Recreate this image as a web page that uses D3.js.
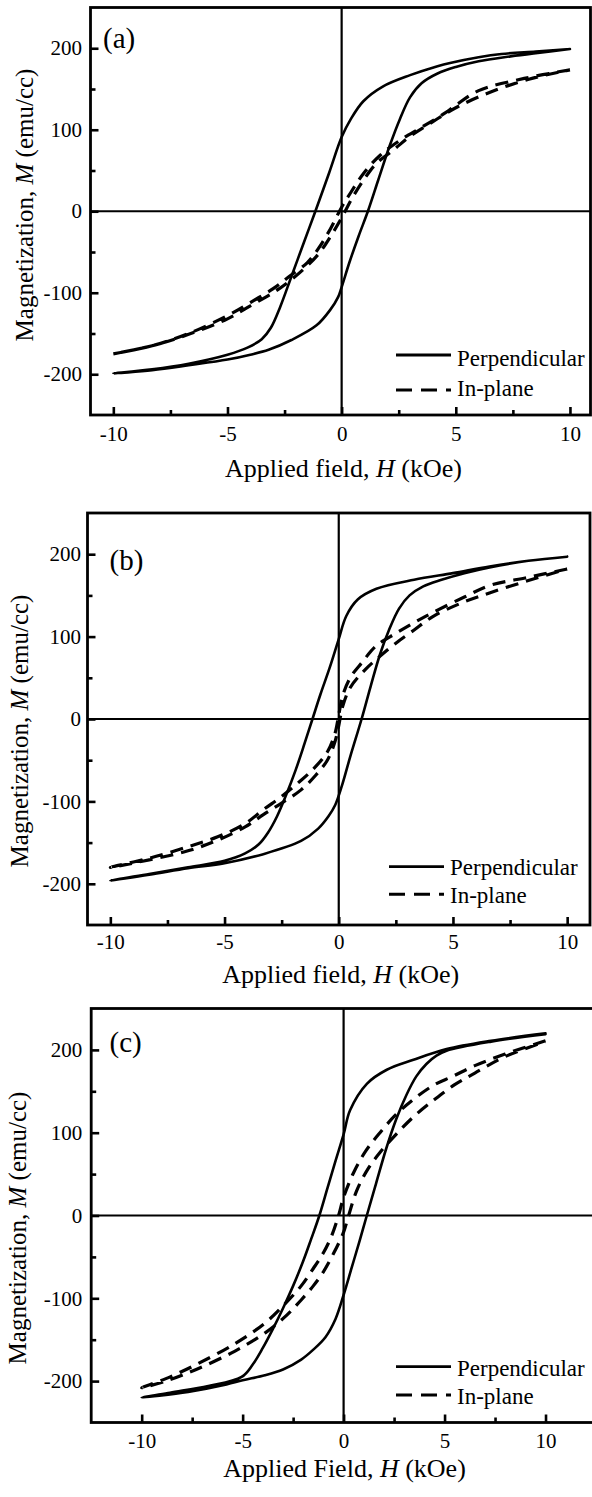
<!DOCTYPE html>
<html>
<head>
<meta charset="utf-8" />
<title>Hysteresis loops</title>
<style>
  html, body { margin: 0; background: #fff; }
  svg { display: block; background: #fff; }
  text { fill: #000; }
  .frame { fill: none; stroke: #000; stroke-width: 2.8px; }
  .zero { stroke: #000; stroke-width: 2.2px; }
  .tick line { stroke: #000; stroke-width: 2.6px; }
  .loop { fill: none; stroke: #000; stroke-linejoin: round; stroke-linecap: round; }
  .perp { stroke-width: 2.6px; }
  .inplane { stroke-width: 3.2px; stroke-dasharray: 13 8; stroke-linecap: butt; }
  .leg-perp { stroke: #000; stroke-width: 2.8px; }
  .leg-in { stroke: #000; stroke-width: 3px; stroke-dasharray: 16 9; }
</style>
</head>
<body>
<div id="container"></div>
<script src="https://d3js.org/d3.v7.min.js"></script>
<script>
// tick values
var xMajor = [-10, -5, 0, 5, 10];
var xMinor = [-7.5, -2.5, 2.5, 7.5];
var yMajor = [-200, -100, 0, 100, 200];
var yMinor = [-150, -50, 50, 150];
var series = ["Perpendicular", "In-plane"];
var panelLabels = ["(a)", "(b)", "(c)"];
var xTitles = ["Applied field, ", "Applied field, ", "Applied Field, "];

// (a) [H kOe, M emu/cc], field sweeping down then up
var aPerpDown = [[10,199],[8.5,196],[7,193],[6,189],[4.75,182],[4.2,178],[3,167],[1.8,153],[0.95,135],[0.4,113],[0,91],[-0.55,47],[-1.15,0],[-1.65,-38],[-2.2,-80],[-2.7,-118],[-3.1,-143],[-3.5,-157],[-4.1,-167],[-5,-176],[-6.7,-187],[-8.3,-194],[-10,-199]];
var aPerpUp = [[-10,-199],[-8.3,-195],[-6.7,-189],[-5,-182],[-4,-176],[-3.2,-170],[-2.2,-158],[-1.1,-140],[-0.5,-121],[-0.15,-105],[0,-93],[0.35,-62],[0.75,-30],[1.15,0],[1.6,38],[2.1,80],[2.55,113],[3,140],[3.5,157],[4.2,169],[5,177],[6,184],[7.4,190],[8.5,194],[10,199]];
var aInDown = [[10,173.5],[8,163],[6,148],[5,130],[4.5,120],[3.5,103],[2.5,86],[1.7,69],[1,48],[0.4,23],[0,5],[-0.5,-22],[-1,-45],[-1.5,-63],[-2.3,-80],[-3,-95],[-4,-112],[-5,-128],[-6.7,-150],[-8.3,-165],[-10,-175]];
var aInUp = [[-10,-175],[-8.3,-165],[-6.7,-151],[-5,-132],[-4,-116],[-3,-100],[-2.3,-86],[-1.7,-72],[-1,-52],[-0.4,-27],[0,-8],[0.5,18],[1,40],[1.5,58],[2.3,76],[3,92],[4,110],[5,127],[6.5,146],[8.2,162],[10,173.5]];

// (b)
var bPerpDown = [[10,197],[8.3,192],[6.6,185],[5,177],[3.3,169],[1.65,158],[0.83,145],[0.33,125],[0,97],[-0.4,62],[-0.8,30],[-1.15,0],[-1.5,-30],[-1.9,-63],[-2.3,-92],[-2.7,-118],[-3.1,-138],[-3.5,-152],[-4.1,-163],[-5,-172],[-6.6,-180],[-8.3,-188],[-10,-196]];
var bPerpUp = [[-10,-196],[-8.3,-189],[-6.6,-181],[-5,-175],[-3.3,-164],[-1.65,-148],[-0.9,-133],[-0.45,-118],[-0.15,-104],[0.15,-80],[0.5,-46],[1,0],[1.4,40],[1.8,78],[2.2,108],[2.64,134],[3.1,150],[3.7,161],[4.5,169],[5.5,177],[6.6,184],[8.3,192],[10,197]];
var bInDown = [[10,182],[8.3,172],[6.6,162],[5.5,148],[4.1,129],[3.3,117],[2.5,104],[1.65,89],[1,68],[0.5,50],[0.17,28],[0,5],[-0.17,-18],[-0.5,-40],[-1.16,-62],[-1.8,-78],[-2.5,-94],[-3.3,-110],[-4.1,-127],[-5.3,-143],[-6.6,-155],[-8.3,-169],[-10,-180]];
var bInUp = [[-10,-180],[-8.3,-171],[-6.6,-160],[-5.3,-147],[-4.1,-131],[-3.3,-116],[-2.5,-102],[-1.65,-86],[-1,-68],[-0.5,-50],[-0.17,-28],[0,-8],[0.17,15],[0.5,38],[1.16,60],[1.8,76],[2.5,92],[3.3,108],[4.1,124],[5.3,140],[6.6,153],[8.3,168],[10,182]];

// (c)
var cPerpDown = [[10,220],[7.3,211],[5.1,201],[3.46,188],[2.14,176],[1.15,159],[0.32,127],[0,98],[-0.4,66],[-0.8,33],[-1.2,0],[-1.6,-28],[-2,-55],[-2.5,-85],[-3,-112],[-3.5,-137],[-4,-160],[-4.5,-180],[-5.05,-195],[-6.7,-206],[-8.6,-214],[-10,-220]];
var cPerpUp = [[-10,-220],[-7.7,-213],[-5.8,-204],[-5,-199],[-3.9,-193],[-3,-186],[-2.1,-174],[-1.5,-162],[-0.9,-147],[-0.4,-125],[0,-96],[0.4,-63],[0.8,-30],[1.15,0],[1.6,38],[2.1,80],[2.6,116],[3.1,145],[3.6,168],[4.1,183],[4.6,193],[5.1,199],[7.3,210],[10,219]];
var cInDown = [[10,211],[8,195],[6.5,181],[5.4,168],[4.5,158],[3.5,141],[2.6,122],[1.8,100],[1.1,78],[0.5,52],[0,22],[-0.25,0],[-0.6,-25],[-1,-45],[-1.5,-64],[-2.1,-85],[-2.8,-104],[-3.9,-130],[-5.4,-155],[-7.3,-180],[-8.8,-197],[-10,-208]];
var cInUp = [[-10,-211],[-8.8,-200],[-7.3,-186],[-5.4,-164],[-3.9,-142],[-2.8,-120],[-2.1,-102],[-1.5,-85],[-1,-68],[-0.5,-46],[0,-20],[0.25,0],[0.65,30],[1.2,56],[1.8,76],[2.6,98],[3.5,120],[4.5,140],[5.5,158],[6.5,172],[8,192],[10,210]];

var W = 592, H = 1497;
var serif = "'Liberation Serif', 'Times New Roman', Times, 'DejaVu Serif', serif";

var svg = d3.select("#container").append("svg")
    .attr("width", W)
    .attr("height", H);

var panels = [
  { perp: [aPerpDown, aPerpUp], inp: [aInDown, aInUp],
    left: 90.5, right: 590.5, top: 7.5, bottom: 415, xDom: [-11, 10.9],
    yPad: 8.5, xPad: 11, labX: 103, labY: 48,
    yTitleX: 33, yTitleY: 205, xTitleX: 343.5, xTitleY: 477,
    legX: 396, legLine: [355, 390], legText: [366, 396] },
  { perp: [bPerpDown, bPerpUp], inp: [bInDown, bInUp],
    left: 87.5, right: 590, top: 513, bottom: 925, xDom: [-11, 11],
    yPad: 6.5, xPad: 9, labX: 109.5, labY: 570,
    yTitleX: 28, yTitleY: 731, xTitleX: 340.7, xTitleY: 983,
    legX: 389, legLine: [866.7, 894.3], legText: [874.5, 902.5] },
  { perp: [cPerpDown, cPerpUp], inp: [cInDown, cInUp],
    left: 91.2, right: 596, top: 1008.5, bottom: 1422.5, xDom: [-12.5, 12.5],
    yPad: 9, xPad: 11, labX: 109.5, labY: 1052,
    yTitleX: 26, yTitleY: 1228, xTitleX: 344.5, xTitleY: 1477,
    legX: 396, legLine: [1366.7, 1395], legText: [1375.5, 1404] }
];

function plain(d) { return String(d); }

panels.forEach(function(p, i) {
  var x = d3.scaleLinear().domain(p.xDom).range([p.left, p.right]);
  var y = d3.scaleLinear().domain([-250, 250]).range([p.bottom, p.top]);
  var g = svg.append("g");

  // ticks, pointing inward
  g.append("g")
      .attr("transform", "translate(0," + p.bottom + ")")
      .call(d3.axisBottom(x).tickValues(xMinor).tickSizeInner(-5).tickSizeOuter(0).tickFormat(""))
      .call(function(a) { a.select(".domain").remove(); });
  g.append("g")
      .attr("transform", "translate(0," + p.bottom + ")")
      .call(d3.axisBottom(x).tickValues(xMajor).tickSizeInner(-8).tickSizeOuter(0).tickPadding(p.xPad).tickFormat(plain))
      .call(function(a) {
        a.select(".domain").remove();
        a.selectAll("text").attr("font-size", 21);
      });
  g.append("g")
      .attr("transform", "translate(" + p.left + ",0)")
      .call(d3.axisLeft(y).tickValues(yMinor).tickSizeInner(-5).tickSizeOuter(0).tickFormat(""))
      .call(function(a) { a.select(".domain").remove(); });
  g.append("g")
      .attr("transform", "translate(" + p.left + ",0)")
      .call(d3.axisLeft(y).tickValues(yMajor).tickSizeInner(-8).tickSizeOuter(0).tickPadding(p.yPad).tickFormat(plain))
      .call(function(a) {
        a.select(".domain").remove();
        a.selectAll("text").attr("font-size", 21);
      });

  // zero lines
  g.append("line").attr("class", "zero")
      .attr("x1", x(0)).attr("x2", x(0)).attr("y1", p.top).attr("y2", p.bottom);
  g.append("line").attr("class", "zero")
      .attr("x1", p.left).attr("x2", p.right).attr("y1", y(0)).attr("y2", y(0));

  // frame
  g.append("rect").attr("class", "frame")
      .attr("x", p.left).attr("y", p.top)
      .attr("width", p.right - p.left).attr("height", p.bottom - p.top);

  var line = d3.line()
      .x(function(d) { return x(d[0]); })
      .y(function(d) { return y(d[1]); })
      .curve(d3.curveCatmullRom.alpha(0.5));

  g.append("path").attr("class", "loop perp")
      .datum(p.perp[0].concat(p.perp[1].slice(1)))
      .attr("d", line);
  g.append("path").attr("class", "loop inplane")
      .datum(p.inp[0].concat(p.inp[1].slice(1)))
      .attr("d", line);

  // panel label
  g.append("text")
      .attr("x", p.labX).attr("y", p.labY)
      .attr("font-size", 29)
      .text(panelLabels[i]);

  // legend
  g.append("line").attr("class", "leg-perp")
      .attr("x1", p.legX).attr("x2", p.legX + 55)
      .attr("y1", p.legLine[0]).attr("y2", p.legLine[0]);
  g.append("line").attr("class", "leg-in")
      .attr("x1", p.legX).attr("x2", p.legX + 55)
      .attr("y1", p.legLine[1]).attr("y2", p.legLine[1]);
  series.forEach(function(s, k) {
    g.append("text")
        .attr("x", p.legX + 61).attr("y", p.legText[k])
        .attr("font-size", 23)
        .text(s);
  });

  // axis titles
  var xt = g.append("text")
      .attr("x", p.xTitleX).attr("y", p.xTitleY)
      .attr("text-anchor", "middle")
      .attr("font-size", 26);
  xt.append("tspan").text(xTitles[i]);
  xt.append("tspan").attr("font-style", "italic").text("H");
  xt.append("tspan").text(" (kOe)");

  var yt = g.append("text")
      .attr("transform", "translate(" + p.yTitleX + "," + p.yTitleY + ") rotate(-90)")
      .attr("text-anchor", "middle")
      .attr("font-size", 25);
  yt.append("tspan").text("Magnetization, ");
  yt.append("tspan").attr("font-style", "italic").text("M");
  yt.append("tspan").text(" (emu/cc)");
});

svg.selectAll("text").style("font-family", serif);
</script>
</body>
</html>
